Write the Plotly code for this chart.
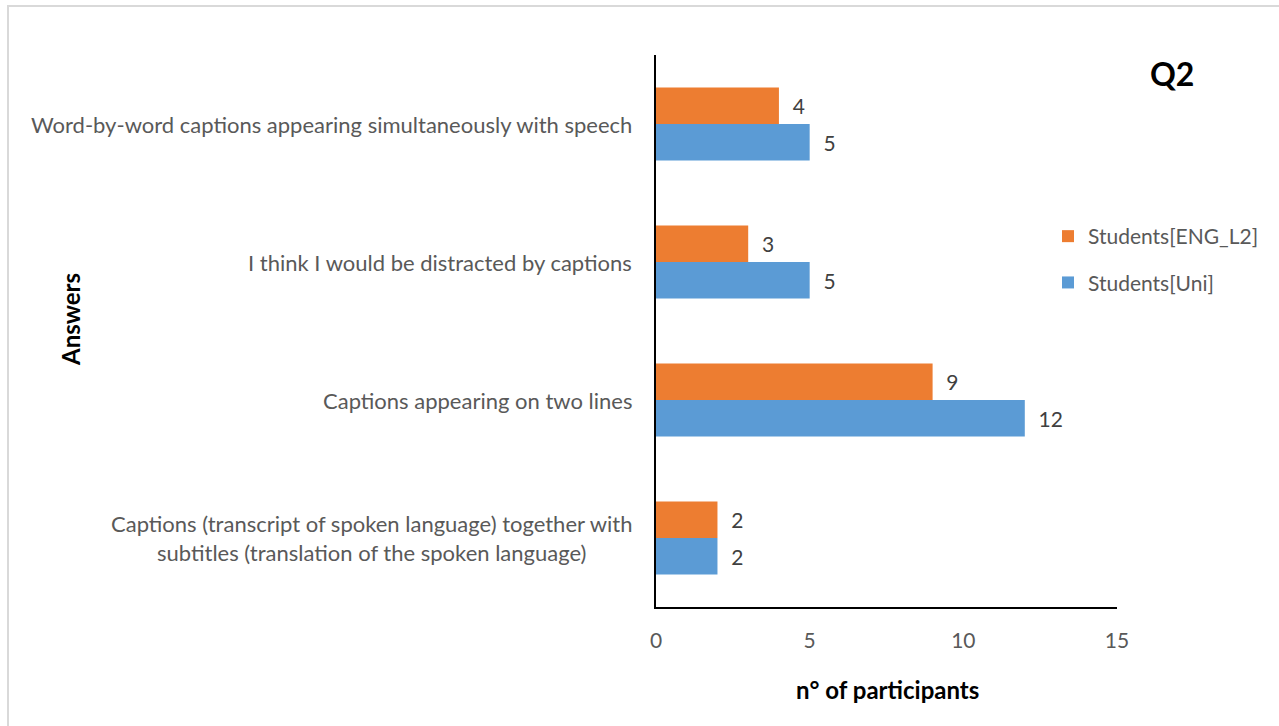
import plotly.graph_objects as go

# Answers, listed bottom to top as they sit on the category axis
answers = [
    "Captions (transcript of spoken language) together with<br>subtitles (translation of the spoken language)",
    "Captions appearing on two lines",
    "I think I would be distracted by captions",
    "Word-by-word captions appearing simultaneously with speech",
]
students_uni = [2, 12, 5, 5]
students_eng_l2 = [2, 9, 3, 4]
x_ticks = [0, 5, 10, 15]

FONT = "Lato"
GRAY = "#595959"
VAL = "#404040"

W, H = 1279, 726
L, R, T, B = 656, 1117, 55, 607  # plot area in pixels


def px(x):
    return (x - L) / (R - L)


def py(y):
    return (B - y) / (B - T)


fig = go.Figure()
fig.add_trace(go.Bar(
    y=answers, x=students_uni, orientation="h", name="Students[Uni]",
    legendgroup="uni", legendrank=2,
    marker=dict(color="#5B9BD5", line=dict(width=0)),
    text=students_uni, texttemplate="\u00a0\u00a0%{x}", textposition="outside",
    textfont=dict(family=FONT, size=21, color=VAL), cliponaxis=False,
))
fig.add_trace(go.Bar(
    y=answers, x=students_eng_l2, orientation="h", name="Students[ENG_L2]",
    legendgroup="eng", legendrank=1,
    marker=dict(color="#ED7D31", line=dict(width=0)),
    text=students_eng_l2, texttemplate="\u00a0\u00a0%{x}", textposition="outside",
    textfont=dict(family=FONT, size=21, color=VAL), cliponaxis=False,
))

annotations = []
for a in answers:
    annotations.append(dict(
        x=0, xref="paper", y=a, yref="y", text=a, showarrow=False,
        xanchor="right", yanchor="middle", align="center", xshift=-22,
        font=dict(family=FONT, size=22, color=GRAY),
    ))
annotations += [
    dict(x=px(70), y=py(320), xref="paper", yref="paper", text="<b>Answers</b>",
         textangle=-90, showarrow=False, xanchor="center", yanchor="middle",
         font=dict(family=FONT, size=24, color="#000000")),
    dict(x=px(887), y=py(690), xref="paper", yref="paper", text="<b>n° of participants</b>",
         showarrow=False, xanchor="center", yanchor="middle",
         font=dict(family=FONT, size=24, color="#000000")),
    dict(x=px(1172), y=py(73), xref="paper", yref="paper", text="<b>Q2</b>",
         showarrow=False, xanchor="center", yanchor="middle",
         font=dict(family=FONT, size=32, color="#000000")),
]

fig.update_layout(
    width=W, height=H,
    margin=dict(l=L, r=W - R, t=T, b=H - B, pad=0),
    paper_bgcolor="white", plot_bgcolor="white",
    barmode="group", bargap=0.47, bargroupgap=0,
    showlegend=True,
    legend=dict(
        x=px(1048), y=py(216), xanchor="left", yanchor="top",
        traceorder="grouped", tracegroupgap=16,
        font=dict(family=FONT, size=21, color=GRAY),
        itemwidth=30, bgcolor="rgba(0,0,0,0)",
    ),
    xaxis=dict(
        range=[0, 15], tickvals=x_ticks, showgrid=False, zeroline=False,
        showline=True, linecolor="#000000", linewidth=2, ticks="",
        tickfont=dict(family=FONT, size=21, color=GRAY), ticklabelstandoff=14,
    ),
    yaxis=dict(
        categoryorder="array", categoryarray=answers, showticklabels=False,
        showgrid=False, zeroline=False, showline=True, linecolor="#000000",
        linewidth=2, ticks="", range=[-0.5, 3.5],
    ),
    annotations=annotations,
    shapes=[dict(
        type="rect", xref="paper", yref="paper",
        x0=px(8), x1=px(1290), y0=py(740), y1=py(6),
        line=dict(color="#D9D9D9", width=2), fillcolor="rgba(0,0,0,0)", layer="below",
    )],
)

fig.write_html("out.html")
